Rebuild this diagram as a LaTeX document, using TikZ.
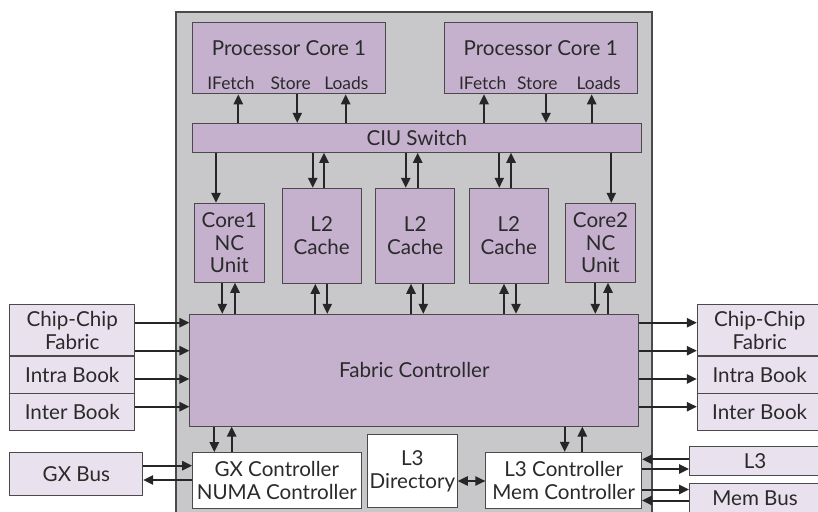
\documentclass[tikz,border=0pt]{standalone}
\usepackage{fontspec}
\setmainfont{Lato}
\usetikzlibrary{arrows.meta}
\definecolor{chipgray}{HTML}{C8C8CA}
\definecolor{unitpurple}{HTML}{C5B1CE}
\definecolor{extlilac}{HTML}{E9E1EE}
\definecolor{edge}{HTML}{4A4A4A}
\definecolor{ink}{HTML}{2A2A2A}

\begin{document}
\begin{tikzpicture}[x=0.5pt,y=-0.5pt,>={Triangle[length=5pt,width=4.6pt]},
    txt/.style={text=ink,inner sep=0pt,font=\fontsize{10.3}{11.4}\selectfont},
    port/.style={text=ink,inner sep=0pt,font=\fontsize{8.7}{9}\selectfont},
    unit/.style={txt,draw=edge,line width=0.5pt,fill=unitpurple,align=center},
    ext/.style={unit,fill=extlilac},
    ctl/.style={unit,fill=white},
    pcbox/.style={unit,minimum width=96.7pt,minimum height=35.4pt},
    l2box/.style={unit,minimum width=39.4pt,minimum height=47.5pt},
    ncbox/.style={unit,minimum width=35pt,minimum height=39.5pt},
    fabbox/.style={ext,minimum width=62.4pt,minimum height=18.5pt},
    link/.style={line width=1pt,draw=black!85}]
    \useasboundingbox (0,0) rectangle (818,512);
    \clip (0,0) rectangle (818,512);
    \fill[white] (0,0) rectangle (818,512);
    \filldraw[fill=chipgray,draw=edge,line width=0.6pt] (176,530) -- (176,12) -- (652,12) -- (652,530);

    \node[pcbox] (pc1) at (289,58.4) {};
    \node[pcbox] (pc2) at (540.7,58.4) {};
    \node[txt] (pc1t) at (289,47.7) {Processor Core 1};
    \node[txt] (pc2t) at (540.7,47.7) {Processor Core 1};
    \node[port] (if1) at (231,83.3) {IFetch};
    \node[port] (st1) at (290.7,83.3) {Store};
    \node[port] (ld1) at (346.3,83.3) {Loads};
    \node[port] (if2) at (482.7,83.3) {IFetch};
    \node[port] (st2) at (537.3,83.3) {Store};
    \node[port] (ld2) at (598.7,83.3) {Loads};

    \node[unit,minimum width=224.5pt,minimum height=14.5pt] (ciu) at (416.8,137.8) {CIU Switch};

    \node[ncbox] (nc1) at (229.3,242.8) {Core1\\NC\\Unit};
    \node[l2box] (l2a) at (321.7,235.8) {L2\\Cache};
    \node[l2box] (l2b) at (415.2,235.8) {L2\\Cache};
    \node[l2box] (l2c) at (508.8,235.8) {L2\\Cache};
    \node[ncbox] (nc2) at (600.5,242.8) {Core2\\NC\\Unit};

    \node[unit,minimum width=224.4pt,minimum height=55.9pt] (fab) at (414.3,370.2) {Fabric Controller};

    \node[fabbox,minimum height=25.5pt] (cc1) at (72.3,330.5) {Chip-Chip\\Fabric};
    \node[fabbox] (ib1) at (72.3,374.7) {Intra Book};
    \node[fabbox] (xb1) at (72.3,411.7) {Inter Book};
    \node[fabbox,minimum height=25.5pt] (cc2) at (759.7,330.5) {Chip-Chip\\Fabric};
    \node[fabbox] (ib2) at (759.7,374.7) {Intra Book};
    \node[fabbox] (xb2) at (759.7,411.7) {Inter Book};

    \node[ext,minimum width=66.4pt,minimum height=21.4pt] (gxbus) at (76.3,473.7) {GX Bus};
    \node[ctl,minimum width=84.2pt,minimum height=27.8pt] (gxc) at (276.8,480.5) {GX Controller\\NUMA Controller};
    \node[ctl,minimum width=44.9pt,minimum height=36.5pt] (l3dir) at (412.4,471) {L3\\Directory};
    \node[ctl,minimum width=77.8pt,minimum height=27.8pt] (l3c) at (563.7,480.2) {L3 Controller\\Mem Controller};
    \node[ext,minimum width=65.5pt,minimum height=14.5pt] (l3) at (755,461.2) {L3};
    \node[ext,minimum width=65.5pt,minimum height=14.5pt] (mem) at (755,497.8) {Mem Bus};

    \foreach \x/\core in {238.3/pc1,345.7/pc1,484/pc2,591.7/pc2}
        \draw[link,->] (ciu.north -| \x,0) -- (\core.south -| \x,0);
    \foreach \x/\core in {297.3/pc1,546/pc2}
        \draw[link,->] (\core.south -| \x,0) -- (ciu.north -| \x,0);

    \draw[link,->] (ciu.south -| 216,0) -- (nc1.north -| 216,0);
    \draw[link,->] (ciu.south -| 611.3,0) -- (nc2.north -| 611.3,0);
    \foreach \blk/\xd/\xu in {l2a/312.7/324,l2b/405.7/417.7,l2c/499.3/511}{
        \draw[link,->] (ciu.south -| \xd,0) -- (\blk.north -| \xd,0);
        \draw[link,->] (\blk.north -| \xu,0) -- (ciu.south -| \xu,0);
    }
    \foreach \blk/\xu/\xd in {l2a/315.3/327.3,l2b/411/423.3,l2c/504/516,nc1/235/222.3,nc2/608/595.3}{
        \draw[link,->] (fab.north -| \xu,0) -- (\blk.south -| \xu,0);
        \draw[link,->] (\blk.south -| \xd,0) -- (fab.north -| \xd,0);
    }

    \foreach \y/\src/\dst in {322.7/cc1/cc2,350.7/cc1/cc2,379/ib1/ib2,406.7/xb1/xb2}{
        \draw[link,->] (\src.east |- 0,\y) -- (fab.west |- 0,\y);
        \draw[link,->] (fab.east |- 0,\y) -- (\dst.west |- 0,\y);
    }

    \foreach \xd/\xu/\blk in {214.3/231.7/gxc,564.7/582.3/l3c}{
        \draw[link,->] (fab.south -| \xd,0) -- (\blk.north -| \xd,0);
        \draw[link,->] (\blk.north -| \xu,0) -- (fab.south -| \xu,0);
    }

    \draw[link,->] (gxbus.east |- 0,465.7) -- (gxc.west |- 0,465.7);
    \draw[link,->] (gxc.west |- 0,480) -- (gxbus.east |- 0,480);
    \draw[link,<->] (l3dir.east |- 0,481) -- (l3c.west |- 0,481);
    \draw[link,->] (l3.west |- 0,459.3) -- (l3c.east |- 0,459.3);
    \draw[link,->] (l3c.east |- 0,469) -- (l3.west |- 0,469);
    \draw[link,->] (l3c.east |- 0,489.5) -- (mem.west |- 0,489.5);
    \draw[link,->] (mem.west |- 0,500.5) -- (l3c.east |- 0,500.5);
\end{tikzpicture}
\end{document}
